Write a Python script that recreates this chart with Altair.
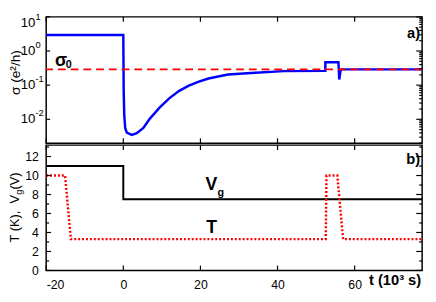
import altair as alt
import pandas as pd

# ---------------- data ----------------
# conductance sigma (e^2/h) vs time (10^3 s)
sig_t = [-20, 0, 0.1, 0.25, 0.5, 0.9, 2.2, 3.5, 5.2, 6.9, 9.4, 11.9, 14.5, 17, 19.6,
         22.1, 24.6, 27.2, 33.1, 41.6, 52.4, 52.4, 55.8, 56.0, 56.4, 77.5]
sig_v = [2.95, 2.95, 0.068, 0.013, 0.0056, 0.0041, 0.0035, 0.0039, 0.0056, 0.0105,
         0.022, 0.041, 0.068, 0.097, 0.127, 0.157, 0.18, 0.205, 0.227, 0.258,
         0.262, 0.468, 0.468, 0.147, 0.29, 0.29]
sigma0 = [0.29]

# temperature T (K)
temp_t = [-20, -15.1, -13.6, 52.5, 52.7, 55.5, 57.0, 77.5]
temp_v = [10, 10, 3.3, 3.3, 10, 10, 3.3, 3.3]

# gate voltage Vg (V)
vg_t = [-20, 0, 0, 77.5]
vg_v = [11, 11, 7.5, 7.5]

# axes
x_ticks = [-20, 0, 20, 40, 60]
log_major = [0.01, 0.1, 1, 10]
log_exp = ["-2", "-1", "0", "1"]
log_minor = [m * d for d in [0.001, 0.01, 0.1, 1] for m in range(2, 10) if 0.002 <= m * d <= 10]
lin_major = [0, 2, 4, 6, 8, 10, 12]
lin_minor = [1, 3, 5, 7, 9, 11, 13]

X_DOMAIN = [-20, 77.5]
W = 384
H1 = 129
H2 = 128

xs = alt.Scale(domain=X_DOMAIN, nice=False, zero=False)
ys_log = alt.Scale(type="log", domain=[0.002, 10], nice=False)
ys_lin = alt.Scale(domain=[0, 13.2], nice=False, zero=False)

sig_df = pd.DataFrame({"t": sig_t, "v": sig_v, "i": range(len(sig_t))})
temp_df = pd.DataFrame({"t": temp_t, "v": temp_v, "i": range(len(temp_t))})
vg_df = pd.DataFrame({"t": vg_t, "v": vg_v, "i": range(len(vg_t))})
s0_df = pd.DataFrame({"v": sigma0})
xt_df = pd.DataFrame({"t": x_ticks})
lmaj_df = pd.DataFrame({"v": log_major, "e": log_exp})
lmin_df = pd.DataFrame({"v": log_minor})
linmaj_df = pd.DataFrame({"v": lin_major})
linmin_df = pd.DataFrame({"v": lin_minor})
one = pd.DataFrame({"a": [0]})

NB = "\u00a0"

# ---------------- top panel ----------------
X = alt.X("t:Q", scale=xs, axis=None)
Ylog = alt.Y("v:Q", scale=ys_log, axis=None)


def xticks(h, xenc):
    bot = alt.Chart(xt_df).mark_rule(color="black", strokeWidth=1.2).encode(
        x=xenc, y=alt.value(h), y2=alt.value(h - 5))
    top_ = alt.Chart(xt_df).mark_rule(color="black", strokeWidth=1.2).encode(
        x=xenc, y=alt.value(0), y2=alt.value(5))
    return [bot, top_]


def yticks(df, yenc, left_len, right_len):
    out = []
    if left_len > 0:
        out.append(alt.Chart(df).mark_rule(color="black", strokeWidth=1.2).encode(
            y=yenc, x=alt.value(0), x2=alt.value(left_len)))
    if right_len > 0:
        out.append(alt.Chart(df).mark_rule(color="black", strokeWidth=1.2).encode(
            y=yenc, x=alt.value(W), x2=alt.value(W - right_len)))
    return out


def label(df_t, df_v, txt, size, xenc, yenc, bold=True):
    d = pd.DataFrame({"t": [df_t], "v": [df_v]})
    return alt.Chart(d).mark_text(align="left", baseline="alphabetic", fontSize=size,
                                  fontWeight="bold" if bold else "normal").encode(
        x=xenc, y=yenc, text=alt.value(txt))


blue = alt.Chart(sig_df).mark_line(color="#0000ff", strokeWidth=2.5).encode(
    x=X, y=Ylog, order="i:Q")
red0 = alt.Chart(s0_df).mark_rule(color="#ff0000", strokeWidth=2, strokeDash=[8, 5]).encode(y=Ylog)

lab10 = alt.Chart(lmaj_df).transform_filter("datum.v < 5").mark_text(
    align="right", baseline="middle", fontSize=13.5).encode(
    y=Ylog, x=alt.value(-11), text=alt.value("10"))
labsup = alt.Chart(lmaj_df).transform_filter("datum.v < 5").mark_text(
    align="left", baseline="middle", fontSize=9.5, dy=-6).encode(
    y=Ylog, x=alt.value(-11), text="e:N")
lab10t = alt.Chart(lmaj_df).transform_filter("datum.v > 5").mark_text(
    align="right", baseline="middle", fontSize=13.5, dy=6).encode(
    y=Ylog, x=alt.value(-11), text=alt.value("10"))
labsupt = alt.Chart(lmaj_df).transform_filter("datum.v > 5").mark_text(
    align="left", baseline="middle", fontSize=9.5, dy=0).encode(
    y=Ylog, x=alt.value(-11), text="e:N")

sig_lab = label(-17.7, 0.36, "σ", 18, X, Ylog)
sig_sub = label(-14.9, 0.315, "0", 11, X, Ylog)
a_lab = alt.Chart(one).mark_text(align="right", baseline="alphabetic", fontSize=15,
                                 fontWeight="bold").encode(
    x=alt.value(W - 2), y=alt.value(22), text=alt.value("a)"))
ytitle1 = alt.Chart(one).mark_text(angle=270, align="center", baseline="alphabetic",
                                   fontSize=14).encode(
    x=alt.value(-27), y=alt.value(H1 * 60 / 136), text=alt.value("σ" + NB + "(e²/h)"))

top = alt.layer(
    blue, red0, *xticks(H1, X),
    *yticks(lmaj_df, Ylog, 4, 6), *yticks(lmin_df, Ylog, 0, 3),
    lab10, labsup, lab10t, labsupt, sig_lab, sig_sub, a_lab, ytitle1,
).properties(width=W, height=H1)

# ---------------- bottom panel ----------------
Xax = alt.X("t:Q", scale=xs, axis=alt.Axis(values=x_ticks, ticks=False, tickSize=0, domain=False,
                                           grid=False, labelPadding=8, labelFontSize=12.5,
                                           labelColor="black", title=None,
                                           labelExpr="datum.value + ''"))
Ylin = alt.Y("v:Q", scale=ys_lin, axis=alt.Axis(values=lin_major, ticks=False, tickSize=0,
                                                domain=False, grid=False, labelPadding=8,
                                                labelFontSize=12.5, labelColor="black",
                                                title=None))

vg_line = alt.Chart(vg_df).mark_line(color="black", strokeWidth=2).encode(
    x=Xax, y=Ylin, order="i:Q")
t_line = alt.Chart(temp_df).mark_line(color="#ff0000", strokeWidth=2.5, strokeDash=[2, 2]).encode(
    x=Xax, y=Ylin, order="i:Q")

v_lab = label(21.3, 8.46, "V", 18, Xax, Ylin)
g_lab = label(24.4, 7.85, "g", 11, Xax, Ylin)
t_lab = label(21.5, 3.95, "T", 18, Xax, Ylin)
b_lab = alt.Chart(one).mark_text(align="right", baseline="alphabetic", fontSize=15,
                                 fontWeight="bold").encode(
    x=alt.value(W - 2), y=alt.value(19), text=alt.value("b)"))

y0 = H2 / 2 + 35.4
yt_a = alt.Chart(one).mark_text(angle=270, align="left", baseline="alphabetic", fontSize=13).encode(
    x=alt.value(-28), y=alt.value(y0), text=alt.value("T" + NB + "(K)," + NB + NB + "V"))
yt_b = alt.Chart(one).mark_text(angle=270, align="left", baseline="alphabetic", fontSize=9.5).encode(
    x=alt.value(-24.5), y=alt.value(y0 - 48.6), text=alt.value("g"))
yt_c = alt.Chart(one).mark_text(angle=270, align="left", baseline="alphabetic", fontSize=13).encode(
    x=alt.value(-28), y=alt.value(y0 - 54.0), text=alt.value("(V)"))
xtitle = alt.Chart(one).mark_text(align="right", baseline="alphabetic", fontSize=15,
                                  fontWeight="bold").encode(
    x=alt.value(W - 1), y=alt.value(H2 + 15), text=alt.value("t" + NB + "(10³" + NB + "s)"))

bottom = alt.layer(
    vg_line, t_line, *xticks(H2, Xax),
    *yticks(linmaj_df, Ylin, 5, 6), *yticks(linmin_df, Ylin, 3, 3),
    v_lab, g_lab, t_lab, b_lab, yt_a, yt_b, yt_c, xtitle,
).properties(width=W, height=H2)

chart = alt.vconcat(top, bottom, spacing=2, bounds="flush").properties(
    padding=0
).configure(font="Liberation Sans").configure_view(stroke="black", strokeWidth=1.5)

chart.save("out.html", embed_options={"renderer": "svg", "actions": False})
